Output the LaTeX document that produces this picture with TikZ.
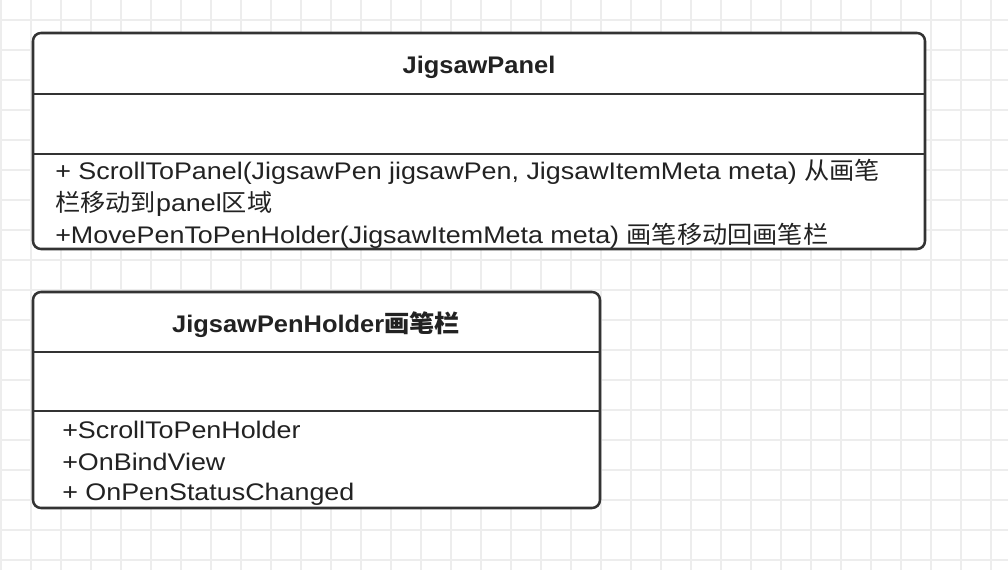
\documentclass[tikz,border=0pt]{standalone}
\usepackage{fontspec}
\setmainfont{Liberation Sans}[FakeStretch=1.12,BoldFeatures={FakeStretch=1.06}]
\newfontfamily\cjk{Noto Sans CJK SC}[FakeStretch=1.05]
\definecolor{gridc}{HTML}{EDEDED}
\definecolor{linec}{HTML}{333333}
\definecolor{textc}{HTML}{222222}
\begin{document}
\begin{tikzpicture}[x=0.75pt,y=-0.75pt,
  box/.style={draw=linec,line width=1.9pt,rounded corners=6pt,fill=white},
  sep/.style={draw=linec,line width=1.9pt},
  title/.style={font=\fontsize{18}{21}\selectfont\bfseries,text=textc,inner sep=0pt},
  meth/.style={font=\fontsize{18}{21}\selectfont,text=textc,inner sep=0pt,anchor=west}]
\useasboundingbox (0,0) rectangle (1008,570);
\fill[white] (0,0) rectangle (1008,570);
\foreach \i in {0,...,33} \draw[gridc,line width=0.9pt] (1+30*\i,0) -- (1+30*\i,570);
\foreach \j in {0,...,18} \draw[gridc,line width=0.9pt] (0,20+30*\j) -- (1008,20+30*\j);
% box 1
\draw[box] (33,33) rectangle (925,249);
\draw[sep] (33,94) -- (925,94);
\draw[sep] (33,154) -- (925,154);
\node[title] (t1) at (479,67) {JigsawPanel};
\node[meth] (m1) at (55,172) {+ ScrollToPanel(JigsawPen jigsawPen, JigsawItemMeta meta) {\cjk 从画笔}};
\node[meth] (m2) at (55,204) {{\cjk 栏移动到}panel{\cjk 区域}};
\node[meth] (m3) at (55,236) {+MovePenToPenHolder(JigsawItemMeta meta) {\cjk 画笔移动回画笔栏}};
% box 2
\draw[box] (33,292) rectangle (600,508);
\draw[sep] (33,352) -- (600,352);
\draw[sep] (33,411) -- (600,411);
\node[title] (t2) at (316,325) {JigsawPenHolder{\cjk\bfseries 画笔栏}};
\node[meth] (n1) at (62,430) {+ScrollToPenHolder};
\node[meth] (n2) at (62,462) {+OnBindView};
\node[meth] (n3) at (62,494) {+ OnPenStatusChanged};
\end{tikzpicture}
\end{document}
